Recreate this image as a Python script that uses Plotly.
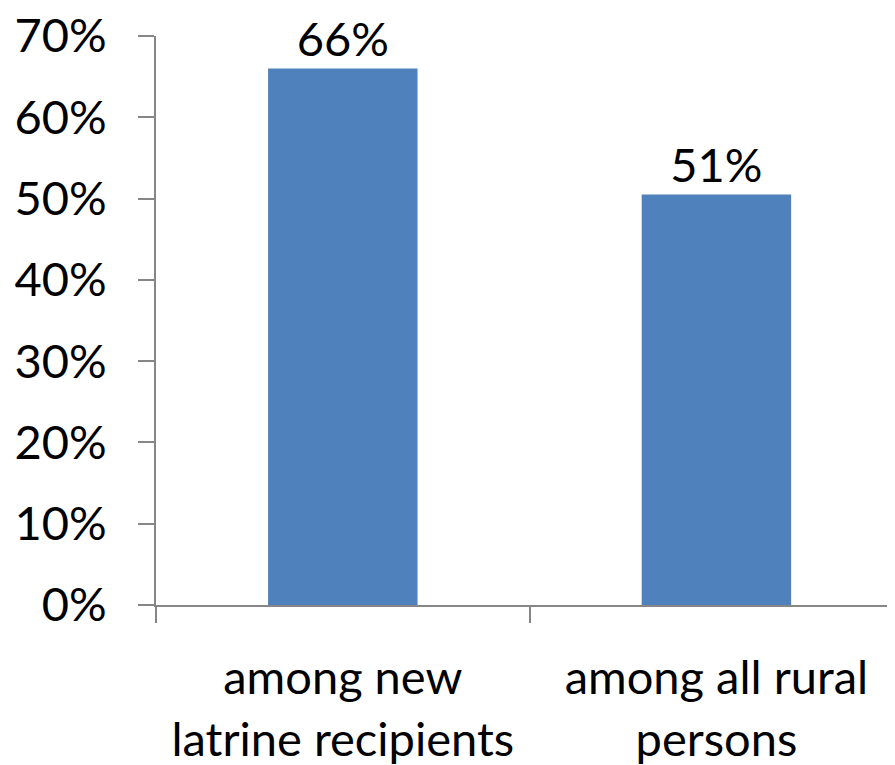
import plotly.graph_objects as go

categories = ["among new<br>latrine recipients", "among all rural<br>persons"]
values = [0.66, 0.505]
labels = ["66%", "51%"]

fig = go.Figure(go.Bar(
    x=categories,
    y=values,
    text=labels,
    textposition="outside",
    cliponaxis=False,
    marker=dict(color="#4F81BD", line=dict(width=0)),
    width=0.4,
    textfont=dict(size=47, color="#000000"),
))

# page body adds an 8px offset, so the figure is shrunk by 8px to fit the window
fig.update_layout(
    width=887, height=757,
    margin=dict(l=148, r=0, t=28, b=160, autoexpand=False),
    paper_bgcolor="white", plot_bgcolor="white",
    font=dict(family="Lato, Carlito, sans-serif", size=47, color="#000000"),
    showlegend=False,
    xaxis=dict(
        type="category",
        range=[-0.5, 1.478],
        automargin=False,
        tickson="boundaries",
        ticks="outside", ticklen=16, tickcolor="#868686", tickwidth=2,
        showline=True, linecolor="#868686", linewidth=2,
        showgrid=False,
        ticklabelstandoff=31,
        ticklabeloverflow="allow",
        tickfont=dict(size=47),
    ),
    yaxis=dict(
        range=[0, 0.7],
        automargin=False,
        tickvals=[0, 0.1, 0.2, 0.3, 0.4, 0.5, 0.6, 0.7],
        tickformat=".0%",
        ticks="outside", ticklen=16, tickcolor="#868686", tickwidth=2,
        showline=True, linecolor="#868686", linewidth=2,
        showgrid=False, zeroline=False,
        ticklabelstandoff=22,
        ticklabeloverflow="allow",
        tickfont=dict(size=47),
    ),
)

fig.write_html("out.html")
